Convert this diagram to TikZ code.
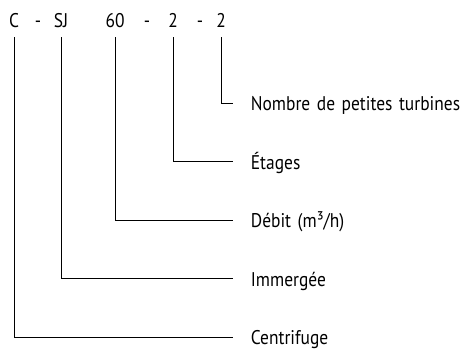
\documentclass[tikz,border=0pt]{standalone}
\usepackage{fontspec}
\setmainfont{PT Sans}[FakeStretch=0.88]

\begin{document}
\begin{tikzpicture}[x=1pt, y=-1pt]
    % settings for this picture
    \tikzset{
      line width=1.8pt,
      node distance=58.5pt,
      every node/.style={font=\fontsize{19.8}{23}\selectfont},
      code/.style={anchor=base, inner sep=0pt, text depth=0pt, outer ysep=10pt},
      desc/.style={text width=215pt, align=left, inner xsep=17pt, inner ysep=0pt,
                   text height=15pt, text depth=0pt},
    }
    \useasboundingbox (0,0) rectangle (462,349);

    % type code
    \node[code] (c)   at (14,27)  {C};
    \node[code] (d1)  at (38,27)  {-};
    \node[code] (sj)  at (61,27)  {SJ};
    \node[code] (deb) at (115,27) {60};
    \node[code] (d2)  at (147,27) {-};
    \node[code] (et)  at (173,27) {2};
    \node[code] (d3)  at (200,27) {-};
    \node[code] (nb)  at (221,27) {2};

    % meanings
    \node[desc, anchor=west] (nombre) at (233,103) {Nombre de petites turbines};
    \node[desc, below of=nombre] (etages) {Étages};
    \node[desc, below of=etages] (debit) {Débit (m³/h)};
    \node[desc, below of=debit] (immergee) {Immergée};
    \node[desc, below of=immergee] (centrifuge) {Centrifuge};

    % leaders
    \draw (nb)  |- (nombre)
          (et)  |- (etages)
          (deb) |- (debit)
          (sj)  |- (immergee)
          (c)   |- (centrifuge);

\end{tikzpicture}
\end{document}
